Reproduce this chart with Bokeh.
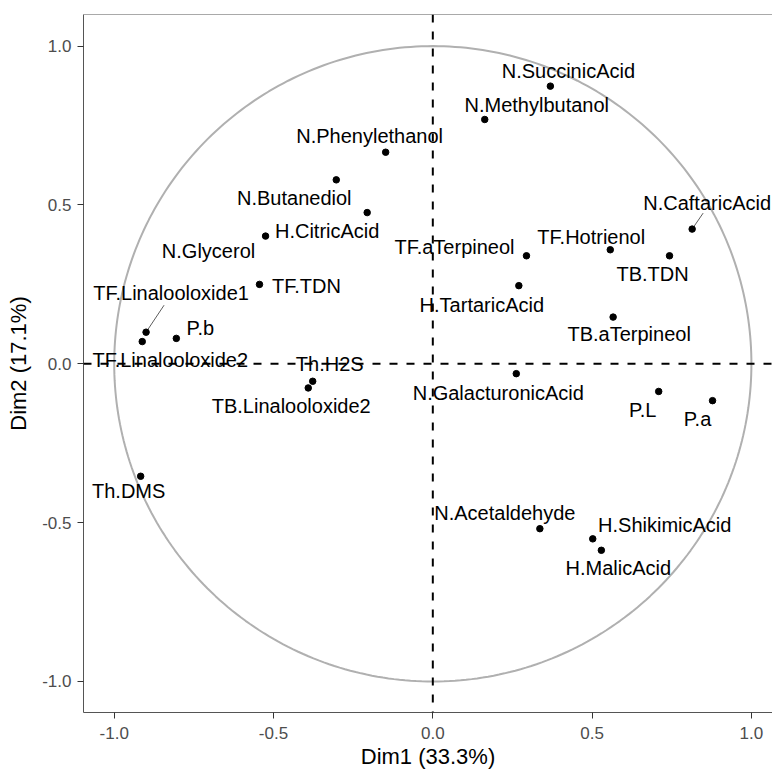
import numpy as np
from bokeh.plotting import figure
from bokeh.models import ColumnDataSource, Span, FixedTicker, PrintfTickFormatter
from bokeh.core.properties import value
from bokeh.embed import file_html
from bokeh.resources import INLINE

# ---- data (variable coordinates on Dim1 / Dim2) ----
names = ["N.SuccinicAcid", "N.Methylbutanol", "N.Phenylethanol", "N.Butanediol",
         "H.CitricAcid", "N.Glycerol", "TF.TDN", "TF.Linalooloxide1",
         "TF.Linalooloxide2", "P.b", "Th.DMS", "Th.H2S", "TB.Linalooloxide2",
         "TF.aTerpineol", "TF.Hotrienol", "N.CaftaricAcid", "TB.TDN",
         "H.TartaricAcid", "TB.aTerpineol", "N.GalacturonicAcid", "P.L", "P.a",
         "N.Acetaldehyde", "H.ShikimicAcid", "H.MalicAcid"]
dim1 = [0.369, 0.163, -0.148, -0.303, -0.206, -0.525, -0.544, -0.900,
        -0.912, -0.805, -0.917, -0.377, -0.391,
        0.294, 0.557, 0.814, 0.743,
        0.270, 0.566, 0.262, 0.709, 0.878,
        0.336, 0.502, 0.529]
dim2 = [0.874, 0.769, 0.666, 0.579, 0.476, 0.402, 0.250, 0.0995,
        0.070, 0.080, -0.354, -0.055, -0.076,
        0.340, 0.359, 0.424, 0.340,
        0.246, 0.147, -0.031, -0.087, -0.116,
        -0.519, -0.551, -0.587]
x_ticks = [-1.0, -0.5, 0.0, 0.5, 1.0]
y_ticks = [-1.0, -0.5, 0.0, 0.5, 1.0]
x_title = "Dim1 (33.3%)"
y_title = "Dim2 (17.1%)"

# ---- label layout (screen pixel offsets from each point, repel-like) ----
lab_dx = [18, 52, -16, -42, -40, -57, 47, 25,
          28, 24, -12, 17, -17,
          -72, -19, 15, -17,
          -37, 16, -18, -16, -15,
          -35, 72, 17]
lab_dy = [-15, -14, -16, 18, 18, 15, 2, -39,
          18, -10, 15, -17, 18,
          -9, -13, -26, 18,
          19, 17, 19, 19, 18,
          -16, -14, 18]
# segments (ggrepel style) for two labels: offsets in px of the segment end
seg_idx = [7, 15]
seg_dx = [18, 11]
seg_dy = [-27, -16]

W, H = 772, 771
BL, BR, BT, BB = 83, 0, 14, 59
xr = (-1.0964, 1.0662)
yr = (-1.0976, 1.0995)

p = figure(width=W, height=H, output_backend="svg", toolbar_location=None,
           x_range=xr, y_range=yr,
           min_border_left=BL, min_border_right=BR, min_border_top=BT, min_border_bottom=BB)
p.grid.visible = False
p.outline_line_color = None
p.background_fill_color = "white"
p.border_fill_color = "white"

# circle of radius 1
t = np.linspace(0, 2 * np.pi, 361)
p.line(np.cos(t), np.sin(t), line_color="#b0b0b0", line_width=2)

# dashed zero lines
p.add_layout(Span(location=0, dimension="width", line_color="black", line_width=2, line_dash="8 9"))
p.add_layout(Span(location=0, dimension="height", line_color="black", line_width=2, line_dash="8 9"))
# top border line
p.add_layout(Span(location=yr[1], dimension="width", line_color="#555555", line_width=1))

# segments
sx = (W - BL - BR) / (xr[1] - xr[0])
sy = (H - BT - BB) / (yr[1] - yr[0])
x0 = [dim1[i] for i in seg_idx]
y0 = [dim2[i] for i in seg_idx]
x1 = [dim1[i] + dx / sx for i, dx in zip(seg_idx, seg_dx)]
y1 = [dim2[i] - dy / sy for i, dy in zip(seg_idx, seg_dy)]
p.segment(x0, y0, x1, y1, line_color="#333333", line_width=0.8)

src = ColumnDataSource(dict(x=dim1, y=dim2, name=names, dx=lab_dx, dy=lab_dy))
p.scatter("x", "y", source=src, size=6.5, color="black")
p.text("x", "y", text="name", source=src, x_offset="dx", y_offset="dy",
       text_align="center", text_baseline="middle",
       text_font=value("Liberation Sans"), text_font_size="20px", text_color="black")

for ax, ticks in ((p.xaxis, x_ticks), (p.yaxis, y_ticks)):
    ax.ticker = FixedTicker(ticks=ticks)
    ax.formatter = PrintfTickFormatter(format="%.1f")
    ax.minor_tick_line_color = None
    ax.major_tick_in = 0
    ax.major_tick_out = 6
    ax.major_tick_line_color = "#333333"
    ax.axis_line_color = "#555555"
    ax.major_label_text_font = "Liberation Sans"
    ax.major_label_text_font_size = "17px"
    ax.major_label_text_color = "#4d4d4d"
    ax.axis_label_text_font = "Liberation Sans"
    ax.axis_label_text_font_size = "22px"
    ax.axis_label_text_font_style = "normal"
    ax.axis_label_text_color = "black"
p.xaxis.axis_label = x_title
p.yaxis.axis_label = y_title
p.xaxis.major_label_standoff = 8
p.yaxis.major_label_standoff = 6
p.xaxis.axis_label_standoff = 2
p.yaxis.axis_label_standoff = 8

open("out.html", "w").write(file_html(p, INLINE))
